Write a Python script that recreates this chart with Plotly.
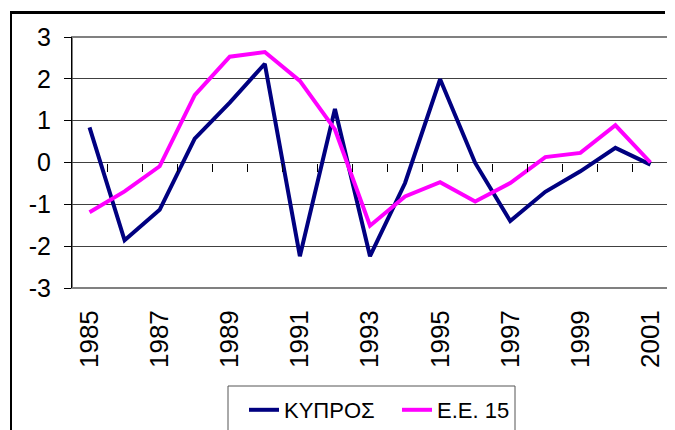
import plotly.graph_objects as go

years = list(range(1985, 2002))
kypros = [0.84, -1.86, -1.13, 0.57, 1.43, 2.36, -2.24, 1.28, -2.24, -0.49, 1.99, -0.01, -1.40, -0.70, -0.21, 0.35, -0.05]
ee15 = [-1.19, -0.69, -0.09, 1.61, 2.53, 2.64, 1.95, 0.79, -1.51, -0.81, -0.47, -0.93, -0.49, 0.13, 0.23, 0.89, 0.0]
y_ticks = [-3, -2, -1, 0, 1, 2, 3]
y_ticktext = ["-3", "-2", "-1", "0", "1", "2", "3"]
x_tickvals = years[::2]
x_ticktext = [str(y) for y in x_tickvals]
names = ["ΚΥΠΡΟΣ", "Ε.Ε. 15"]
colors = ["#000080", "#FF00FF"]

# the page body adds an 8px offset; layout is expressed in figure pixels
OFF = 8
W, H = 675, 430
L, T = 72 - OFF, 37 - OFF
R, B = W - (668 - OFF), H - (288 - OFF)
pw, ph = W - L - R, H - T - B


def px_x(x):
    return (x - OFF - L) / pw


def px_y(y):
    return 1 - (y - OFF - T) / ph


fig = go.Figure()
for name, vals, c in zip(names, [kypros, ee15], colors):
    fig.add_trace(go.Scatter(x=years, y=vals, mode="lines", name=name,
                             line=dict(color=c, width=4), xaxis="x", yaxis="y"))

# invisible trace on a second x-axis that carries the boundary ticks at the zero line
fig.add_trace(go.Scatter(x=[years[0]], y=[0], mode="markers", marker=dict(opacity=0),
                         showlegend=False, hoverinfo="skip", xaxis="x2", yaxis="y"))

font = "Liberation Sans, Arial, sans-serif"
fig.update_layout(
    template="none",
    width=W, height=H,
    margin=dict(l=L, r=R, t=T, b=B, autoexpand=False),
    paper_bgcolor="white", plot_bgcolor="white",
    font=dict(family=font, color="black"),
    showlegend=True,
    legend=dict(orientation="h", xref="container", yref="container",
                x=(244 - OFF) / W, y=1 - (389 - OFF) / H,
                xanchor="left", yanchor="top",
                borderwidth=0, bgcolor="rgba(0,0,0,0)",
                font=dict(size=22, family=font), entrywidth=108,
                tracegroupgap=0),
    xaxis=dict(range=[years[0] - 0.5, years[-1] + 0.5], tickmode="array",
               tickvals=x_tickvals, ticktext=x_ticktext, tickangle=-90,
               tickfont=dict(size=26), showgrid=False, zeroline=False,
               showline=False, ticks="", ticklabelstandoff=16, automargin=False),
    xaxis2=dict(overlaying="x", anchor="free", position=0.5, side="bottom",
                range=[years[0] - 0.5, years[-1] + 0.5], tickmode="array",
                tickvals=[y + 0.5 for y in years[:-1]], ticks="outside",
                ticklen=8, tickcolor="black", tickwidth=1, automargin=False,
                showticklabels=False, showgrid=False, zeroline=False, showline=False),
    yaxis=dict(range=[-3, 3], tickmode="array", tickvals=y_ticks, ticktext=y_ticktext,
               tickfont=dict(size=25), showgrid=True, gridcolor="#404040", gridwidth=1,
               zeroline=False, showline=True, linecolor="black", linewidth=1,
               ticks="outside", ticklen=7, tickcolor="black", ticklabelstandoff=8,
               automargin=False),
    shapes=[
        # plot area border (gray)
        dict(type="rect", xref="paper", yref="paper", x0=0, x1=1, y0=0, y1=1,
             line=dict(color="#808080", width=2), layer="below"),
        # outer chart border: left and top edges
        dict(type="line", xref="paper", yref="paper",
             x0=px_x(11), x1=px_x(11), y0=px_y(H + 20), y1=px_y(12),
             line=dict(color="#000000", width=2)),
        dict(type="line", xref="paper", yref="paper",
             x0=px_x(10), x1=px_x(W - 10), y0=px_y(12.5), y1=px_y(12.5),
             line=dict(color="#000000", width=3)),
        # legend box
        dict(type="rect", xref="paper", yref="paper",
             x0=px_x(228), x1=px_x(515), y0=px_y(H + 20), y1=px_y(386),
             line=dict(color="#555555", width=1), fillcolor="rgba(0,0,0,0)"),
    ],
)
fig.write_html("out.html", config={"displayModeBar": False})
